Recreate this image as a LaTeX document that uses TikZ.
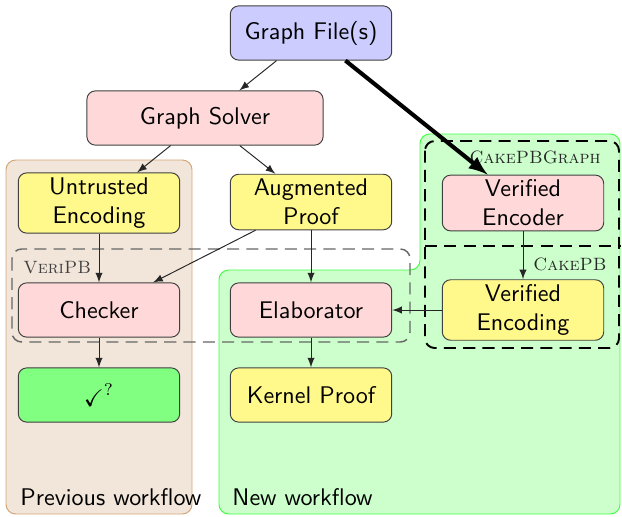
\documentclass[tikz,border=0pt]{standalone}
\usepackage{amssymb}
\usetikzlibrary{arrows}
\tikzset{
  >=latex,
  stage/.style = {draw=black!75, fill=#1, rounded corners=3.5pt,
                  minimum width=67pt, minimum height=22.5pt,
                  inner sep=2pt, align=center, font=\sffamily},
  stage/.default = white,
  input/.style = {stage=blue!20},
  tool/.style = {stage=red!15},
  artefact/.style = {stage=yellow!45},
  verdict/.style = {stage=green!50},
  oldflow/.style = {draw=brown!70, fill=brown!20, rounded corners=4pt},
  newflow/.style = {draw=green!75, fill=green!20, rounded corners=4pt},
  {veripb box/.style} = {draw=black!60, dash pattern=on 5pt off 3pt,
                  line width=0.6pt, rounded corners=4pt},
  {cake box/.style} = {draw=black, dash pattern=on 5pt off 3pt,
                  thick, rounded corners=4pt},
  {tool name/.style} = {font=\fontsize{7.4}{9}\selectfont, inner sep=0},
  flow/.style = {->, black!85},
}

\begin{document}
\begin{tikzpicture}[x=0.415pt,y=-0.415pt]
\useasboundingbox (0,0) rectangle (622,516);
% workflow areas
\draw[oldflow] (6,160) rectangle (192,514);
\draw[newflow] (219,514) -- (219,270) -- (420,270) -- (420,134)
               -- (620,134) -- (620,514) -- cycle;
\node[font=\sffamily, anchor=base west, inner sep=0] (prevlbl) at (20,505) {Previous workflow};
\node[font=\sffamily, anchor=base west, inner sep=0] (newlbl) at (232,505) {New workflow};
% tool boundaries
\draw[veripb box] (12,249) rectangle (410,342);
\node[tool name, black!75, anchor=base west] (veripb) at (23,273) {\textsc{VeriPB}};
\draw[cake box] (425,141) rectangle (619,348);
\draw[cake box, sharp corners] (425,246) -- (621,246);
\node[tool name, black!85, anchor=base east] (cpbg) at (601,163) {\textsc{CakePBGraph}};
\node[tool name, black!85, anchor=base east] (cpb) at (607,270) {\textsc{CakePB}};
% stages
\node[input] (files) at (311,33) {Graph File(s)};
\node[tool, minimum width=98pt] (solver) at (205,118) {Graph Solver};
\node[artefact] (untrusted) at (99,203) {Untrusted\\Encoding};
\node[artefact] (augproof) at (311,202) {Augmented\\Proof};
\node[tool] (encoder) at (523,203) {Verified\\Encoder};
\node[tool] (checker) at (99,310) {Checker};
\node[tool] (elab) at (311,310) {Elaborator};
\node[artefact] (vencoding) at (523,310) {Verified\\Encoding};
\node[verdict] (result) at (99,395) {$\checkmark^{?}$};
\node[artefact] (kernel) at (311,395) {Kernel Proof};
% connections
\path[flow] (files) edge (solver)
            (solver) edge (untrusted)
                     edge (augproof)
            (untrusted) edge (checker)
            (augproof) edge (checker)
                       edge (elab)
            (encoder) edge (vencoding)
            (vencoding) edge (elab)
            (checker) edge (result)
            (elab) edge (kernel);
\draw[->, line width=1.7pt] (files) -- (encoder);
\end{tikzpicture}
\end{document}
